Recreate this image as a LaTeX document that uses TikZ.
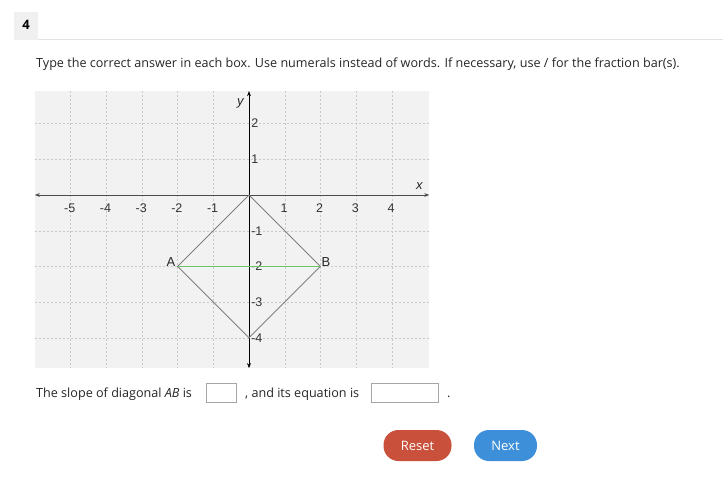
\documentclass[tikz,border=0pt]{standalone}
\usepackage{fontspec}
\setmainfont{Open Sans}
\newfontfamily\graphfont{Liberation Sans}
\usetikzlibrary{positioning,arrows.meta}

\definecolor{panelgray}{HTML}{F2F2F2}
\definecolor{gridgray}{HTML}{C8C8C8}
\definecolor{rulegray}{HTML}{E2E2E2}
\definecolor{resetred}{HTML}{C9503A}
\definecolor{nextblue}{HTML}{3E8FDA}
\definecolor{abgreen}{HTML}{6CC36C}

\tikzset{%
  % Specifications for style of nodes:
    pagetext/.style = {anchor=base west, inner sep=0pt, font=\fontsize{12.6}{15}\selectfont, text=black!85},
    answerbox/.style = {draw=black!35, fill=white, minimum height=19pt, inner sep=0pt},
    button/.style = {rounded corners=15pt, minimum width=68pt, minimum height=31pt, text=white, font=\fontsize{13}{15}\selectfont},
    ticklabel/.style = {font=\graphfont\fontsize{12.5}{13}\selectfont, text=black!80, inner sep=1pt},
    vertexlabel/.style = {font=\graphfont\fontsize{13}{14}\selectfont, text=black!85, inner sep=1pt},
}

\begin{document}
\begin{tikzpicture}[x=1pt, y=-1pt]
    \useasboundingbox (0,0) rectangle (723,496);
    \fill[white] (0,0) rectangle (723,496);

    % Question number
    \fill[black!6] (14,12) rectangle (38,40);
    \node (num) at (26,25) {\fontsize{13}{15}\selectfont\bfseries 4};
    \draw[rulegray] (38,39.5) -- (723,39.5);

    % Instructions
    \node (task) [pagetext] at (36,67) {Type the correct answer in each box. Use numerals instead of words. If necessary, use / for the fraction bar(s).};

    % Draw graph
    \begin{scope}[shift={(249,195)}, x=35.7pt, y=35.7pt]
        \fill[panelgray] (-6,2.91) rectangle (5.05,-4.85);
        \foreach \i in {-5,...,-1,1,2,3,4}
            \draw[gridgray, dashed, dash pattern=on 2pt off 2pt] (\i,2.91) -- (\i,-4.85);
        \foreach \j in {2,1,-1,-2,-3,-4}
            \draw[gridgray, dashed, dash pattern=on 2pt off 2pt] (-6,\j) -- (5.05,\j);

        % axes
        \coordinate (xl) at (-6,0);
        \coordinate (xr) at (5.05,0);
        \coordinate (yt) at (0,2.91);
        \coordinate (yb) at (0,-4.85);
        \draw[black!70, thick, {Stealth[length=5pt]}-{Stealth[length=5pt]}] (xl) -- (xr);
        \draw[black, {Stealth[length=5pt]}-{Stealth[length=5pt]}] (yb) -- (yt);
        \node (xlab) [vertexlabel, font=\graphfont\itshape\fontsize{13}{14}\selectfont] at (4.77,0.26) {x};
        \node (ylab) [vertexlabel, font=\graphfont\itshape\fontsize{13}{14}\selectfont] at (-0.24,2.57) {y};

        \foreach \i in {-5,...,-1,1,2,3,4}
            \node[ticklabel] at (\i-0.02,-0.36) {\i};
        \foreach \j in {2,1,-1,-2,-3,-4}
            \node[ticklabel, anchor=west] at (0.03,\j) {\j};

        % diamond
        \coordinate (O) at (0,0);
        \coordinate (B) at (2,-2);
        \coordinate (D) at (0,-4);
        \coordinate (A) at (-2,-2);
        \draw[black!50, thick] (O) -- (B) -- (D) -- (A) -- cycle;
        \draw[abgreen, thick] (A) -- (B);
        \node (Alab) [vertexlabel, anchor=south east] at ([xshift=-1pt, yshift=-1pt]A) {A};
        \node (Blab) [vertexlabel, anchor=south west] at ([xshift=0pt, yshift=-1pt]B) {B};
    \end{scope}

    % Answer line
    \node (slope) [pagetext] at (36,397) {The slope of diagonal \textit{AB} is};
    \node (box1) [answerbox, minimum width=30pt] at (221,392.5) {};
    \node (eqn) [pagetext] at (245,397) {, and its equation is};
    \node (box2) [answerbox, minimum width=67pt] at (404.5,392.5) {};
    \node (stop) [pagetext] at (447,397) {.};

    % Buttons
    \node (reset) [button, fill=resetred] at (417.5,445.5) {Reset};
    \node (next)  [button, fill=nextblue, minimum width=63pt] at (505.5,445.5) {Next};
\end{tikzpicture}
\end{document}
